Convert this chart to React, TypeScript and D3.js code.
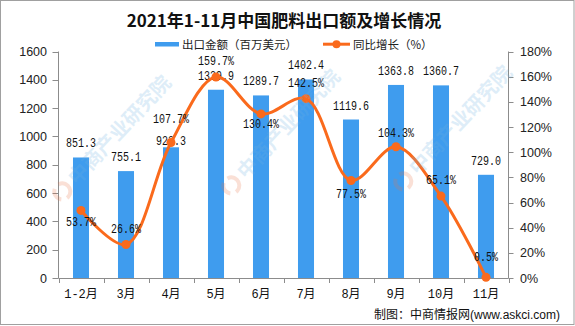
import React from 'react';
import * as d3 from 'd3';

const categories = ['1-2月', '3月', '4月', '5月', '6月', '7月', '8月', '9月', '10月', '11月'];
const exportValues = [851.3, 755.1, 923.3, 1329.9, 1289.7, 1402.4, 1119.6, 1363.8, 1360.7, 729.0];
const growthRates = [53.7, 26.6, 107.7, 159.7, 130.4, 142.5, 77.5, 104.3, 65.1, 0.5];
const leftTicks = [0, 200, 400, 600, 800, 1000, 1200, 1400, 1600];
const rightTicks = [0, 20, 40, 60, 80, 100, 120, 140, 160, 180];

// label placement (style): vertical offset of each label from its mark, in px
const growthLabelDy = [16, -12, -19, -12, 14, -12, 18, -10, -12, -16];
const barLabelLift = [10, 10, 2, 10, 10, 10, 10, 10, 10, 10];

const title = '2021年1-11月中国肥料出口额及增长情况';
const barLegend = '出口金额（百万美元）';
const lineLegend = '同比增长（%）';
const sourceCn = '制图：中商情报网';
const sourceUrl = '(www.askci.com)';
const watermark = '中商产业研究院';
const watermarkSpots: [number, number][] = [
  [77, 186], [246, 180], [418, 176],
];

const W = 575;
const H = 326;
const plot = { left: 58.5, right: 508.5, top: 51.5, bottom: 278 };
const BAR = '#3F9CEE';
const LINE = '#FA6A1C';
const AXIS = '#8c8c8c';
const MONO = '"Liberation Mono", "Noto Sans CJK SC", monospace';
const CJK = '"Noto Sans CJK SC", sans-serif';

export default function App() {
  const x = d3
    .scaleBand<string>()
    .domain(categories)
    .range([plot.left, plot.right])
    .paddingInner(0.644)
    .paddingOuter(0.322);
  const yL = d3.scaleLinear().domain([0, 1600]).range([plot.bottom, plot.top]);
  const yR = d3.scaleLinear().domain([0, 180]).range([plot.bottom, plot.top]);
  const cx = (c: string) => (x(c) as number) + x.bandwidth() / 2;
  const step = x.step();
  const boundaries = d3.range(categories.length + 1).map((i) => plot.left + i * step);

  const pts: [number, number][] = categories.map((c, i) => [cx(c), yR(growthRates[i])]);
  const linePath = d3.line().curve(d3.curveCatmullRom.alpha(0.5))(pts) || '';

  const monoText = (s: string) => s.length * 6;

  return (
    <svg width={W} height={H} style={{ position: 'absolute', left: 0, top: 0, background: '#fff' }}>
      <rect x={0} y={0} width={W} height={H} fill="#fff" />
      <text x={284} y={27} textAnchor="middle" fontFamily={CJK} fontWeight={700} fontSize={17} fill="#111">
        {title}
      </text>
      {/* legend */}
      <rect x={155} y={42} width={24} height={4.5} fill={BAR} />
      <text x={182} y={48.5} fontFamily={CJK} fontSize={11.5} fill="#222">{barLegend}</text>
      <line x1={323} x2={350} y1={44.2} y2={44.2} stroke={LINE} strokeWidth={3} />
      <circle cx={336.5} cy={44.2} r={4} fill={LINE} />
      <text x={353} y={48.5} fontFamily={CJK} fontSize={11.5} fill="#222">{lineLegend}</text>

      {/* bars */}
      {categories.map((c, i) => (
        <rect key={c} x={x(c)} y={yL(exportValues[i])} width={x.bandwidth()} height={plot.bottom - yL(exportValues[i])} fill={BAR} />
      ))}

      {/* axes */}
      <line x1={plot.left} x2={plot.left} y1={plot.top} y2={plot.bottom} stroke={AXIS} />
      <line x1={plot.right} x2={plot.right} y1={plot.top} y2={plot.bottom} stroke={AXIS} />
      <line x1={plot.left} x2={plot.right} y1={plot.bottom + 0.5} y2={plot.bottom + 0.5} stroke={AXIS} />
      {leftTicks.map((t) => (
        <g key={'l' + t}>
          <line x1={plot.left - 6} x2={plot.left} y1={Math.round(yL(t)) + 0.5} y2={Math.round(yL(t)) + 0.5} stroke={AXIS} />
          <text x={47} y={yL(t) + 4.5} textAnchor="end" fontFamily='"Liberation Sans", Arial, sans-serif' fontSize={12.5} fill="#222">
            {t}
          </text>
        </g>
      ))}
      {rightTicks.map((t) => (
        <g key={'r' + t}>
          <line x1={plot.right} x2={plot.right + 5} y1={Math.round(yR(t)) + 0.5} y2={Math.round(yR(t)) + 0.5} stroke={AXIS} />
          <text x={520} y={yR(t) + 4.5} textAnchor="start" fontFamily='"Liberation Sans", Arial, sans-serif' fontSize={12.5} fill="#222">
            {t + '%'}
          </text>
        </g>
      ))}
      {boundaries.map((b, i) => (
        <line key={'b' + i} x1={Math.round(b) + 0.5} x2={Math.round(b) + 0.5} y1={plot.bottom} y2={plot.bottom + 5} stroke={AXIS} />
      ))}
      {categories.map((c) => (
        <text key={'x' + c} x={cx(c)} y={298} textAnchor="middle" fontFamily={MONO} fontSize={12} fill="#111">
          {c}
        </text>
      ))}

      {/* bar labels */}
      {categories.map((c, i) => {
        const s = exportValues[i].toFixed(1);
        return (
          <text key={'bl' + c} x={cx(c) - monoText(s) / 2} y={yL(exportValues[i]) - barLabelLift[i]} fontFamily={MONO} fontSize={12} textLength={monoText(s)} lengthAdjust="spacingAndGlyphs" fill="#111">
            {s}
          </text>
        );
      })}

      {/* line */}
      <path d={linePath} fill="none" stroke={LINE} strokeWidth={3} />
      {pts.map((p, i) => (
        <circle key={'p' + i} cx={p[0]} cy={p[1]} r={4.5} fill={LINE} />
      ))}
      {categories.map((c, i) => {
        const s = growthRates[i].toFixed(1) + '%';
        return (
          <text key={'gl' + c} x={cx(c) - monoText(s) / 2} y={yR(growthRates[i]) + growthLabelDy[i]} fontFamily={MONO} fontSize={12} textLength={monoText(s)} lengthAdjust="spacingAndGlyphs" fill="#111">
            {s}
          </text>
        );
      })}

      {/* watermark */}
      <g opacity={0.22} pointerEvents="none">
        {watermarkSpots.map(([wx, wy], i) => (
          <g key={'wm' + i} transform={`translate(${wx},${wy}) rotate(-47)`}>
            <circle cx={-14} cy={-7} r={8} fill="none" stroke="#e9754a" strokeWidth={4} strokeDasharray="14 6" />
            <text x={0} y={0} fontFamily={CJK} fontWeight={700} fontSize={20} fill="#6fb0e0">
              {watermark}
            </text>
          </g>
        ))}
      </g>

      <rect x={0.5} y={0.5} width={W - 1.5} height={H - 2} fill="none" stroke="#a0a0a0" />

      {/* source */}
      <text x={560} y={319} textAnchor="end" fill="#111">
        <tspan fontFamily={CJK} fontSize={12}>{sourceCn}</tspan>
        <tspan fontFamily='"Liberation Sans", Arial, sans-serif' fontSize={12}>{sourceUrl}</tspan>
      </text>
    </svg>
  );
}
